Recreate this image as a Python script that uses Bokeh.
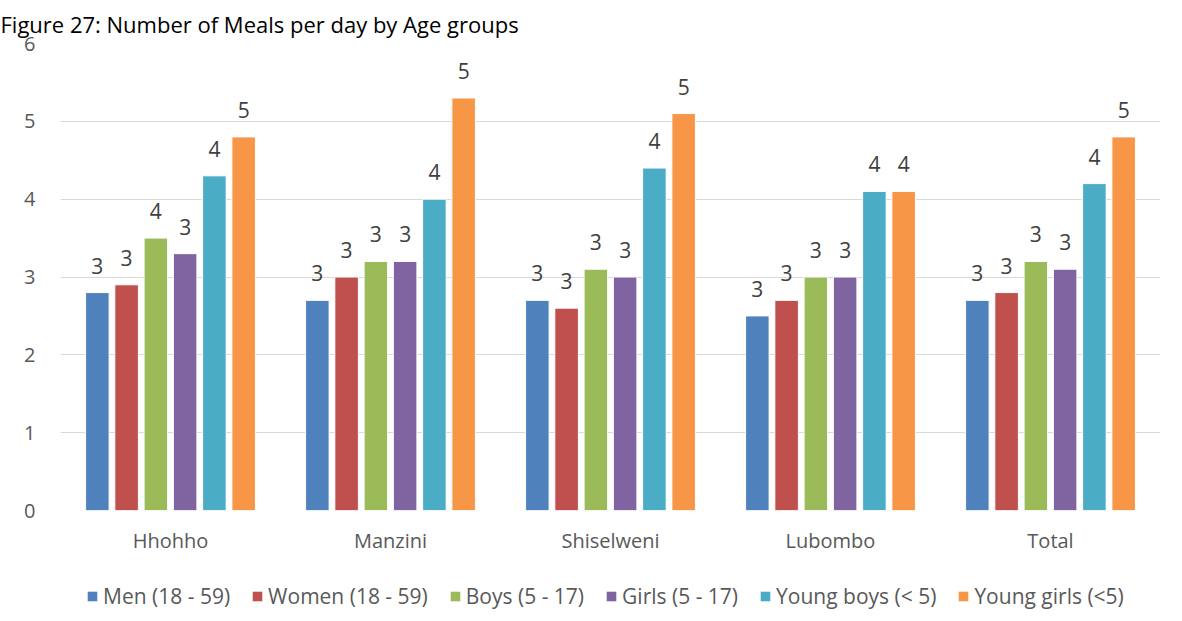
import math
from bokeh.plotting import figure
from bokeh.layouts import column
from bokeh.models import ColumnDataSource, FactorRange, Range1d, Legend, LegendItem, Title
from bokeh.transform import dodge
from bokeh.core.properties import value
from bokeh.embed import file_html
from bokeh.resources import INLINE

regions = ["Hhohho", "Manzini", "Shiselweni", "Lubombo", "Total"]
series = ["Men (18 - 59)", "Women (18 - 59)", "Boys (5 - 17)", "Girls (5 - 17)",
          "Young boys (< 5)", "Young girls (<5)"]
men = [2.8, 2.7, 2.7, 2.5, 2.7]
women = [2.9, 3.0, 2.6, 2.7, 2.8]
boys = [3.5, 3.2, 3.1, 3.0, 3.2]
girls = [3.3, 3.2, 3.0, 3.0, 3.1]
young_boys = [4.3, 4.0, 4.4, 4.1, 4.2]
young_girls = [4.8, 5.3, 5.1, 4.1, 4.8]
y_ticks = [0, 1, 2, 3, 4, 5, 6]
colors = ["#4F81BD", "#C0504D", "#9BBB59", "#8064A2", "#4BACC6", "#F79646"]

all_values = [men, women, boys, girls, young_boys, young_girls]
FONT = "Open Sans"

p = figure(x_range=FactorRange(*regions, range_padding=0), y_range=(0, 6),
           width=1166, height=562, output_backend="svg", toolbar_location=None,
           min_border_left=60, min_border_right=6, min_border_top=43, min_border_bottom=52)

# legend-only strip below the chart
p2 = figure(width=1166, height=50, output_backend="svg", toolbar_location=None,
            x_range=Range1d(0, 1), y_range=Range1d(0, 1), min_border=0,
            x_axis_location=None, y_axis_location=None)
p2.grid.visible = False
p2.outline_line_color = None

step = 0.133
bw = 0.107
items = []
for i, (name, vals, col) in enumerate(zip(series, all_values, colors)):
    labels = [str(int(math.floor(v + 0.5))) for v in vals]
    src = ColumnDataSource(dict(x=regions, y=vals, lab=labels))
    off = (i - 2.5) * step
    p.vbar(x=dodge("x", off, range=p.x_range), top="y", width=bw, source=src,
           fill_color=col, line_color="white", line_width=1)
    p.text(x=dodge("x", off, range=p.x_range), y="y", text="lab", source=src,
           text_align="center", text_baseline="alphabetic", y_offset=-27,
           text_font=value(FONT), text_font_size="21px", text_color="#404040")
    # zero-height placeholder glyph, used only as the legend key
    r2 = p2.vbar(x=[0.5], top=[0], bottom=[0], width=0.0, fill_color=col, line_color=None)
    items.append(LegendItem(label=name, renderers=[r2]))

legend = Legend(items=items, orientation="horizontal", location=(26, 2),
                glyph_width=12, glyph_height=12, label_standoff=5, spacing=21,
                padding=2, margin=0, border_line_color=None, background_fill_alpha=0,
                label_text_font=FONT, label_text_font_size="21px",
                label_text_color="#595959")
p2.add_layout(legend, "center")

p.yaxis.ticker = y_ticks
p.ygrid.ticker = y_ticks
p.ygrid.grid_line_color = "#d9d9d9"
p.ygrid.grid_line_width = 1
p.xgrid.grid_line_color = None
for ax in (p.xaxis, p.yaxis):
    ax.axis_line_color = None
    ax.major_tick_line_color = None
    ax.minor_tick_line_color = None
    ax.major_label_text_font = FONT
    ax.major_label_text_font_size = "20px"
    ax.major_label_text_color = "#595959"
p.xaxis.major_label_standoff = 10
p.yaxis.major_label_standoff = 19
p.outline_line_color = None

p.add_layout(Title(text="Figure 27: Number of Meals per day by Age groups",
                   text_font=FONT, text_font_size="22px", text_font_style="normal",
                   text_color="#000000", align="left", offset=-60, standoff=10), "above")

open("out.html", "w").write(file_html(column(p, p2, spacing=0), INLINE))
